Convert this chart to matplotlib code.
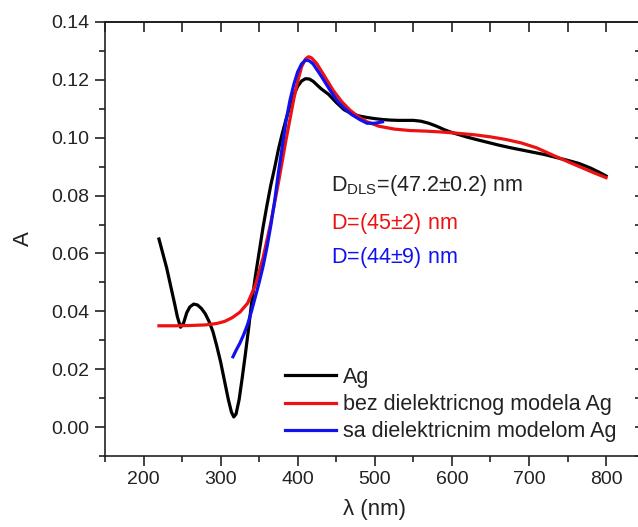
import numpy as np
import matplotlib
matplotlib.use("Agg")
import matplotlib.pyplot as plt

plt.rcParams['font.family'] = ['Liberation Sans', 'DejaVu Sans']
plt.rcParams['mathtext.fontset'] = 'custom'
plt.rcParams['mathtext.rm'] = 'Liberation Sans'
plt.rcParams['mathtext.it'] = 'Liberation Sans:italic'

# Ag measured spectrum
ag_x = [220, 225, 230, 235, 240, 244, 248, 252, 256, 260, 265, 270, 275, 280, 285, 290,
        295, 300, 305, 310, 314, 317, 320, 324, 328, 332, 336, 340, 345, 350, 355, 360,
        365, 370, 375, 380, 385, 390, 395, 400, 405, 410, 415, 420, 430, 440, 450, 460,
        470, 480, 490, 500, 510, 520, 530, 540, 550, 560, 570, 580, 590, 600, 610, 620,
        630, 645, 660, 675, 690, 705, 720, 735, 750, 765, 780, 790, 800]
ag_y = [0.065, 0.060, 0.055, 0.049, 0.043, 0.038, 0.0345, 0.036, 0.0395, 0.0415, 0.0425, 0.0422, 0.041, 0.0392, 0.0365, 0.033,
        0.028, 0.0225, 0.016, 0.0095, 0.0052, 0.0035, 0.0045, 0.0095, 0.017, 0.025, 0.0335, 0.0425, 0.052, 0.0605, 0.069, 0.0765,
        0.0835, 0.0895, 0.096, 0.1015, 0.1065, 0.111, 0.1148, 0.1178, 0.1196, 0.1204, 0.1203, 0.1195, 0.1170, 0.1150, 0.1122, 0.1097,
        0.1083, 0.1075, 0.1070, 0.1066, 0.1063, 0.1061, 0.1060, 0.1060, 0.1060, 0.1057, 0.1050, 0.1040, 0.1028, 0.1018, 0.1010, 0.1002,
        0.0995, 0.0985, 0.0975, 0.0966, 0.0958, 0.0950, 0.0942, 0.0932, 0.0922, 0.0911, 0.0895, 0.0882, 0.0868]

# model without dielectric correction
red_x = [220, 240, 260, 280, 295, 305, 315, 325, 335, 345, 355, 365, 375, 385, 395, 400,
         405, 410, 414, 418, 425, 435, 446, 457, 468, 480, 490, 505, 525, 545, 565, 585,
         605, 630, 650, 670, 690, 710, 735, 755, 770, 785, 800]
red_y = [0.035, 0.035, 0.0351, 0.0353, 0.0358, 0.0365, 0.0378, 0.0397, 0.0428, 0.049, 0.0585, 0.0705, 0.0845, 0.0995, 0.1135, 0.1195,
         0.1245, 0.1272, 0.1280, 0.1276, 0.1255, 0.1212, 0.1164, 0.1125, 0.1095, 0.1070, 0.1055, 0.1040, 0.1030, 0.1025, 0.1023, 0.1020,
         0.1016, 0.1010, 0.1003, 0.0994, 0.0982, 0.0965, 0.0935, 0.0912, 0.0895, 0.0878, 0.0862]

# model with dielectric correction
blue_x = [316, 320, 325, 330, 335, 340, 345, 350, 355, 360, 365, 370, 375, 380, 385, 390,
          395, 400, 405, 410, 415, 420, 430, 442, 452, 460, 470, 481, 490, 500, 510]
blue_y = [0.0243, 0.0265, 0.029, 0.032, 0.0355, 0.040, 0.045, 0.050, 0.0555, 0.062, 0.0695, 0.078, 0.088, 0.097, 0.106, 0.113,
          0.1185, 0.1228, 0.1255, 0.1268, 0.1266, 0.1255, 0.1215, 0.1164, 0.1125, 0.1103, 0.1080, 0.1062, 0.1050, 0.1050, 0.1055]

labels = ['Ag', 'bez dielektricnog modela Ag', 'sa dielektricnim modelom Ag']
colors = ['black', '#ee1111', '#1111ee']
annotations = [r'D$_{\mathregular{DLS}}$=(47.2$\pm$0.2) nm', r'D=(45$\pm$2) nm', r'D=(44$\pm$9) nm']

W, H = 638, 527
fig = plt.figure(figsize=(W / 100, H / 100), dpi=100)
ax = fig.add_axes([105 / W, 1 - 456 / H, 539.6 / W, 434 / H])

lw = 2.3
ax.plot(ag_x, ag_y, color=colors[0], lw=lw, label=labels[0], zorder=3)
ax.plot(red_x, red_y, color=colors[1], lw=lw, label=labels[1], zorder=4)
ax.plot(blue_x, blue_y, color=colors[2], lw=lw, label=labels[2], zorder=5)

ax.set_xlim(150, 850)
ax.set_ylim(-0.01, 0.14)
ax.set_xticks([200, 300, 400, 500, 600, 700, 800])
ax.set_xticks(np.arange(150, 851, 50), minor=True)
ax.set_yticks(np.arange(0, 0.141, 0.02))
ax.set_yticks(np.arange(-0.01, 0.141, 0.01), minor=True)
ax.yaxis.set_major_formatter(matplotlib.ticker.FormatStrFormatter('%.2f'))

tc = '#222222'
for s in ax.spines.values():
    s.set_linewidth(1.2)
    s.set_color(tc)
ax.tick_params(which='major', direction='out', length=7.5, width=1.2, labelsize=14,
               colors=tc, pad=3.5)
ax.tick_params(which='minor', direction='out', length=4.5, width=1.2, colors=tc)

secx = ax.secondary_xaxis('top')
secx.set_xticks(np.arange(150, 851, 50))
secx.tick_params(direction='in', length=7, width=1.2, labeltop=False, colors=tc)
secx.spines['top'].set_linewidth(1.2)
secy = ax.secondary_yaxis('right')
secy.set_yticks(np.arange(-0.01, 0.141, 0.01))
secy.tick_params(direction='in', length=7, width=1.2, labelright=False, colors=tc)
secy.spines['right'].set_linewidth(1.2)

ax.set_xlabel('λ (nm)', fontsize=16, color=tc, labelpad=8)
ax.set_ylabel('A', fontsize=16, color=tc, labelpad=13)

tx = 443
fs = 15.5
ax.text(tx, 0.0836, annotations[0], fontsize=fs, color=tc, va='center', ha='left')
ax.text(tx, 0.0705, annotations[1], fontsize=fs, color=colors[1], va='center', ha='left')
ax.text(tx, 0.0587, annotations[2], fontsize=fs, color=colors[2], va='center', ha='left')

leg = ax.legend(loc='upper left', bbox_to_anchor=(285 / W, 1 - 367 / H),
                bbox_transform=fig.transFigure, frameon=False, fontsize=fs,
                handlelength=2.37, handletextpad=0.33, labelspacing=0.29,
                borderpad=0, borderaxespad=0)
for t in leg.get_texts():
    t.set_color(tc)

fig.savefig('out.png', dpi=100)
